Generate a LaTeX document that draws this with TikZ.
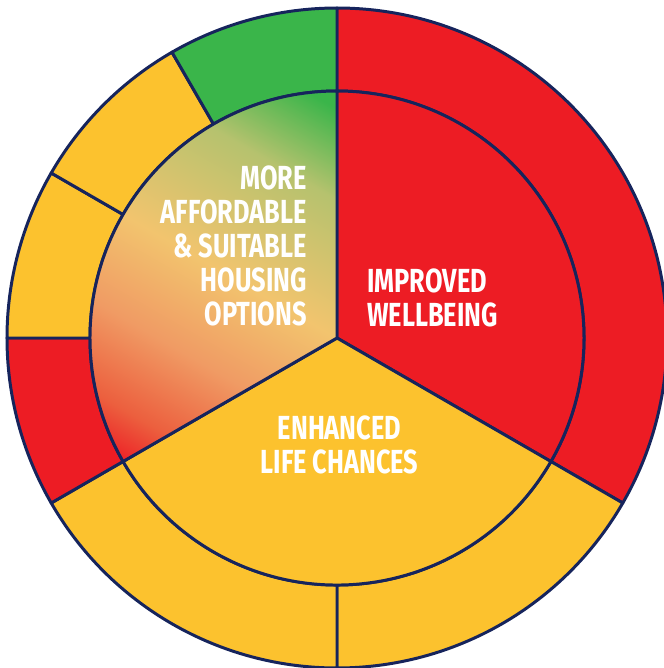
\documentclass[tikz,border=0pt]{standalone}
\usepackage{fontspec}
\usepackage{xcolor}
\newfontfamily\wheelfont{Fira Sans}[FakeStretch=0.76]

\definecolor{wheelred}{RGB}{237,28,36}
\definecolor{wheelyellow}{RGB}{252,194,46}
\definecolor{wheelgreen}{RGB}{58,181,74}
\definecolor{wheelnavy}{RGB}{22,36,92}
\definecolor{shadeorangered}{RGB}{236,95,62}
\definecolor{shadeorange}{RGB}{240,155,100}
\definecolor{shadepale}{RGB}{242,196,110}
\definecolor{shadekhaki}{RGB}{182,194,110}

\pgfdeclareverticalshading{housingshade}{100bp}{color(0bp)=(wheelred); color(28bp)=(wheelred); color(33bp)=(shadeorangered); color(41bp)=(shadeorange); color(50bp)=(shadepale); color(62bp)=(shadekhaki); color(70bp)=(wheelgreen); color(100bp)=(wheelgreen)}

\begin{document}
\begin{tikzpicture}[
ringpart/.style={draw=wheelnavy, line width=1.7pt, line join=round},
wheeltext/.style={text=white, inner sep=0pt, font=\wheelfont\bfseries\fontsize{19}{19.4}\selectfont},
]
\useasboundingbox (-6.74,-6.60) rectangle (6.54,6.76);
\clip (-6.74,-6.60) rectangle (6.54,6.76);

%Outer ring
\draw[ringpart, fill=wheelred]    (90:6.6)   arc (90:-30:6.6)    -- (-30:4.94)  arc (-30:90:4.94)    -- cycle;
\draw[ringpart, fill=wheelyellow] (-30:6.6)  arc (-30:-90:6.6)   -- (-90:4.94)  arc (-90:-30:4.94)   -- cycle;
\draw[ringpart, fill=wheelyellow] (-90:6.6)  arc (-90:-150:6.6)  -- (-150:4.94) arc (-150:-90:4.94)  -- cycle;
\draw[ringpart, fill=wheelred]    (210:6.6)  arc (210:180:6.6)   -- (180:4.94)  arc (180:210:4.94)   -- cycle;
\draw[ringpart, fill=wheelyellow] (180:6.6)  arc (180:150:6.6)   -- (150:4.94)  arc (150:180:4.94)   -- cycle;
\draw[ringpart, fill=wheelyellow] (150:6.6)  arc (150:120:6.6)   -- (120:4.94)  arc (120:150:4.94)   -- cycle;
\draw[ringpart, fill=wheelgreen]  (120:6.6)  arc (120:90:6.6)    -- (90:4.94)   arc (90:120:4.94)    -- cycle;

%Inner sectors
\draw[ringpart, fill=wheelred]    (0,0) -- (90:4.94)  arc (90:-30:4.94)   -- cycle;
\draw[ringpart, fill=wheelyellow] (0,0) -- (-30:4.94) arc (-30:-150:4.94) -- cycle;
\begin{scope}
\clip (0,0) -- (90:4.94) arc (90:210:4.94) -- cycle;
\shade[shading=housingshade, shading angle=-30] (-5,-5) rectangle (5,5);
\end{scope}
\draw[ringpart] (0,0) -- (90:4.94) arc (90:210:4.94) -- cycle;

%Nodes
\node[wheeltext, anchor=east, align=right] (housing)     at (-0.6,1.84) {MORE\\AFFORDABLE\\\&~SUITABLE\\HOUSING\\OPTIONS};
\node[wheeltext, anchor=west, align=left]  (wellbeing)   at (0.6,0.8)   {IMPROVED\\WELLBEING};
\node[wheeltext, align=center]             (lifechances) at (0.05,-2.13) {ENHANCED\\LIFE CHANCES};

\end{tikzpicture}
\end{document}
